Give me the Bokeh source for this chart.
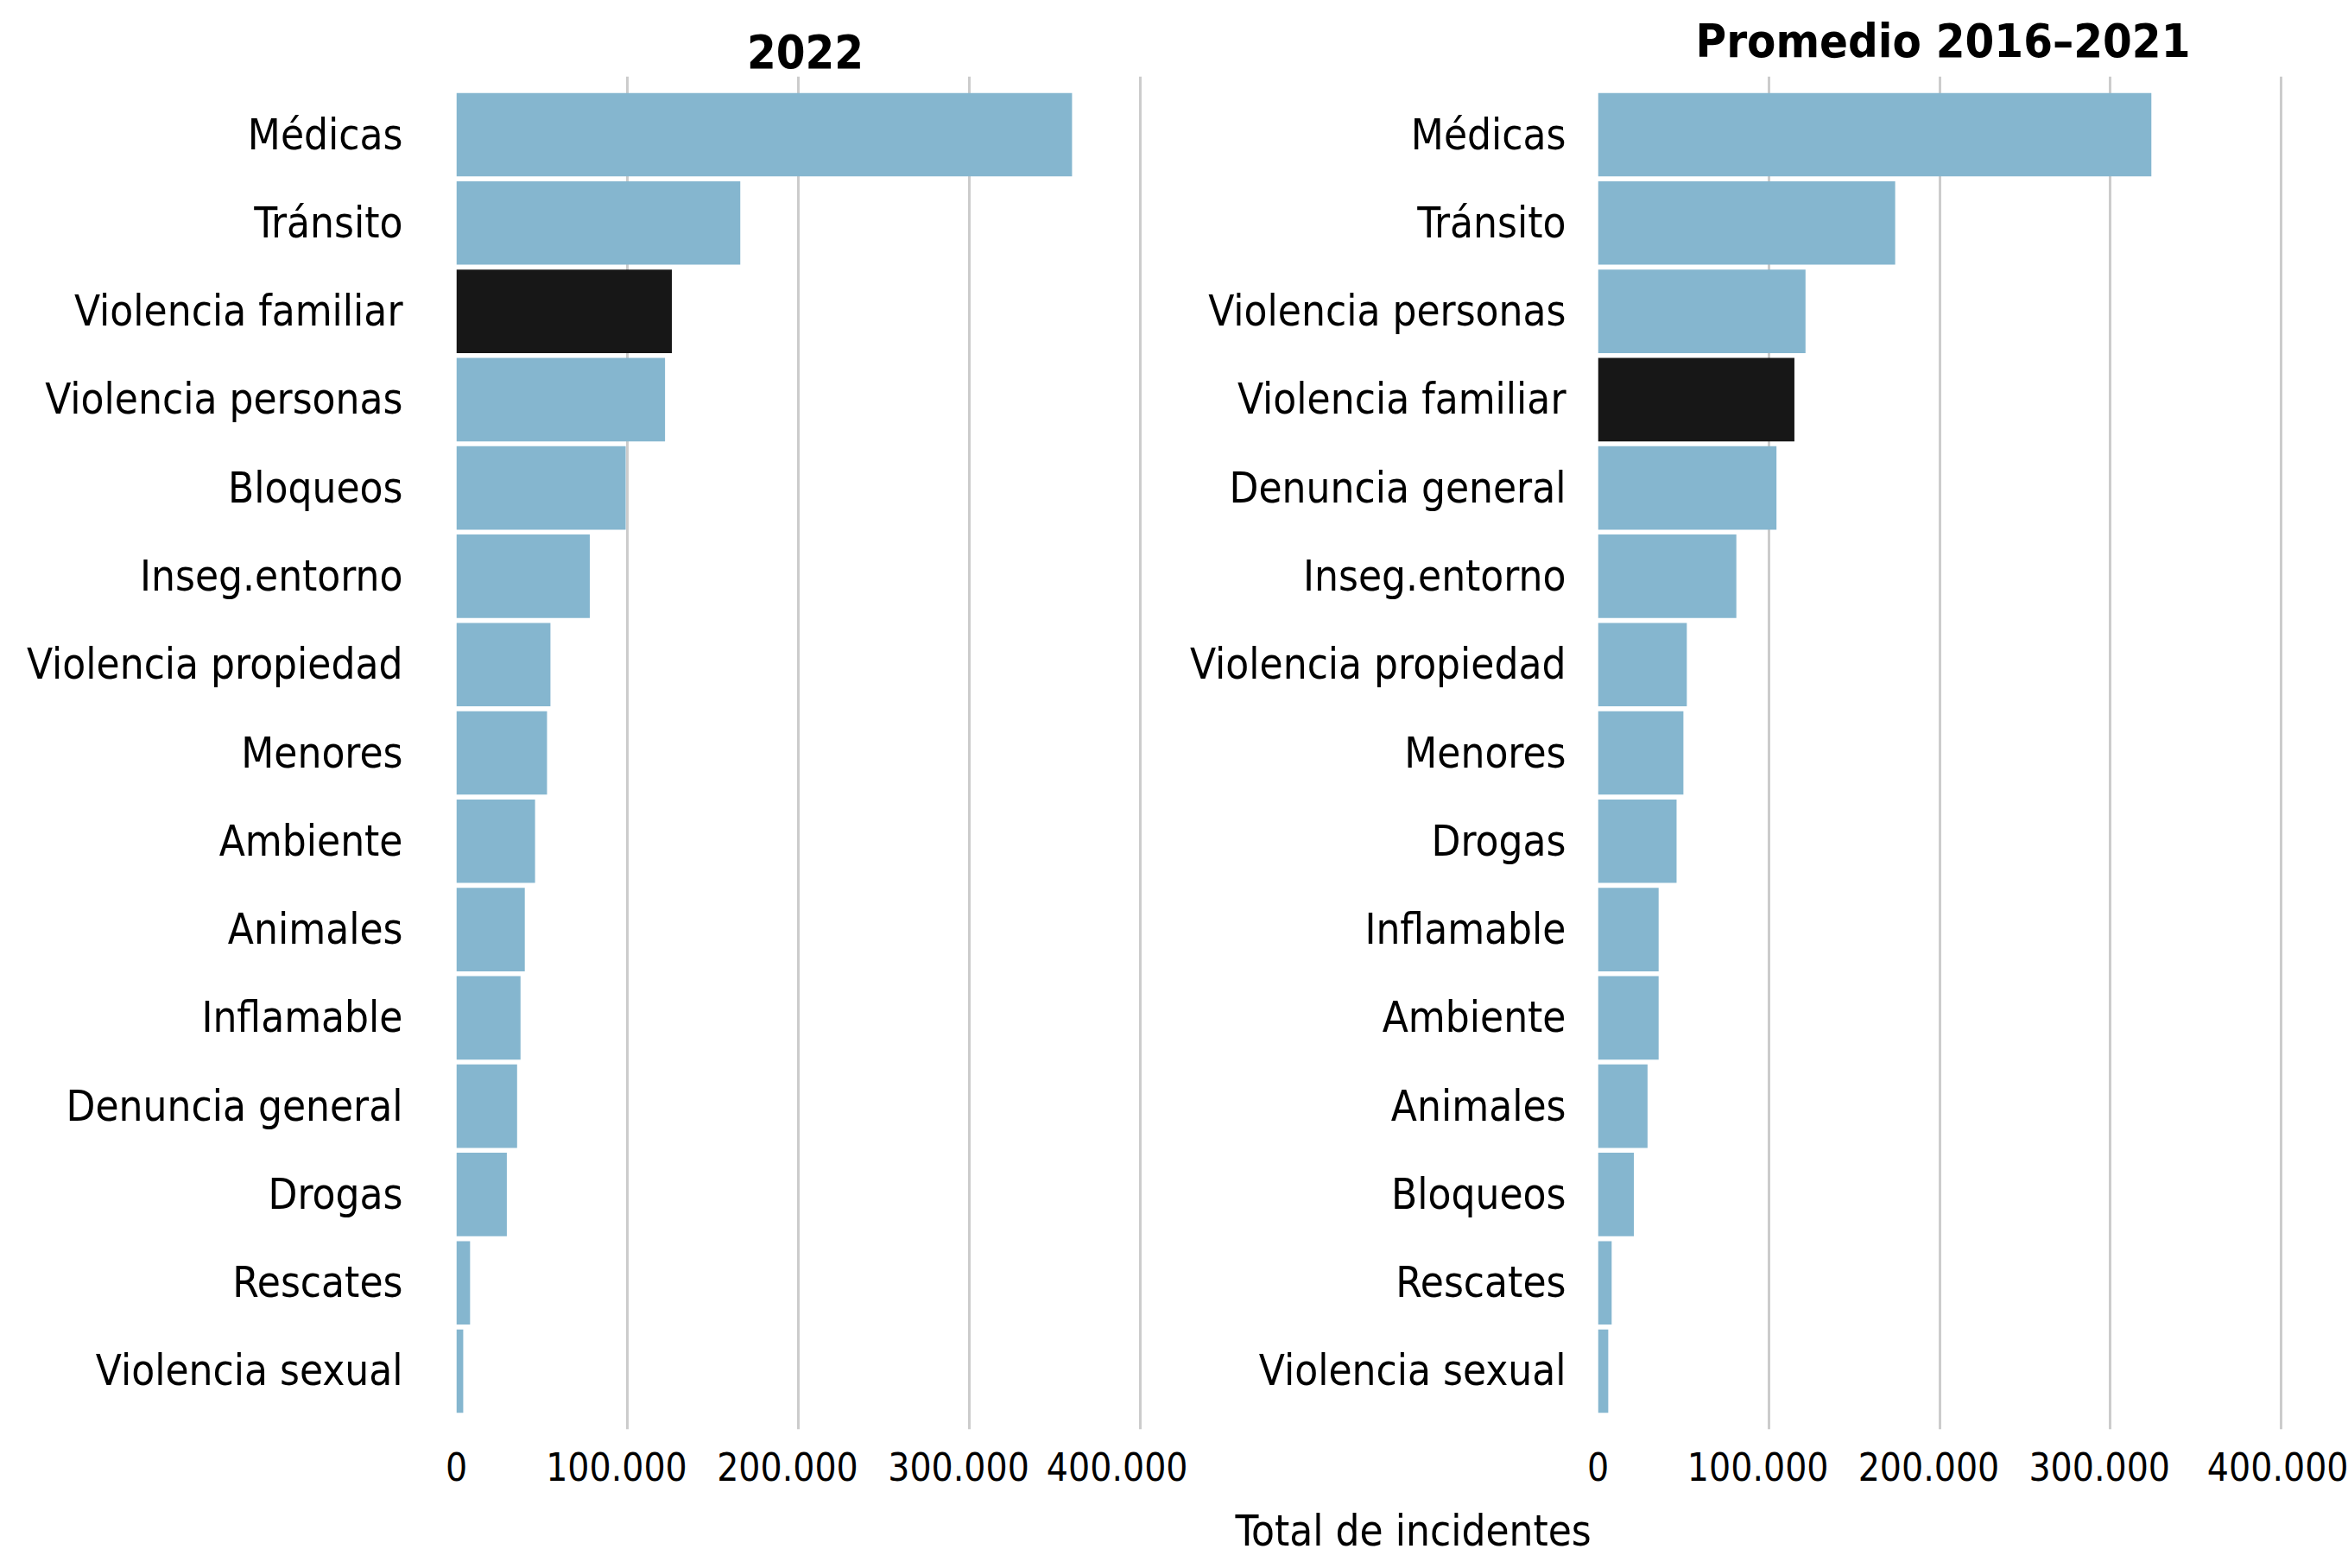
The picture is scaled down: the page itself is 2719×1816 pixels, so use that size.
from bokeh.plotting import figure
from bokeh.models import FactorRange, Range1d, FixedTicker, Title, ColumnDataSource
from bokeh.layouts import row
from bokeh.embed import file_html
from bokeh.resources import INLINE

# ---- data ----
cats_2022 = ["Médicas", "Tránsito", "Violencia familiar", "Violencia personas", "Bloqueos",
             "Inseg.entorno", "Violencia propiedad", "Menores", "Ambiente", "Animales",
             "Inflamable", "Denuncia general", "Drogas", "Rescates", "Violencia sexual"]
vals_2022 = [360000, 166000, 126000, 122000, 99000, 78000, 55000, 53000, 46000, 40000,
             37500, 35500, 29500, 8000, 4000]

cats_prom = ["Médicas", "Tránsito", "Violencia personas", "Violencia familiar", "Denuncia general",
             "Inseg.entorno", "Violencia propiedad", "Menores", "Drogas", "Inflamable",
             "Ambiente", "Animales", "Bloqueos", "Rescates", "Violencia sexual"]
vals_prom = [324000, 174000, 121500, 115000, 104500, 81000, 52000, 50000, 46000, 35500,
             35500, 29000, 21000, 8000, 6000]

highlight = "Violencia familiar"
tick_values = [0, 100000, 200000, 300000, 400000]
tick_labels = ["0", "100.000", "200.000", "300.000", "400.000"]
title_2022 = "2022"
title_prom = "Promedio 2016–2021"
x_title = "Total de incidentes"

BLUE = "#85b6cf"
BLACK = "#171717"
GRID = "#cccccc"
FONT = "'DejaVu Sans Condensed', sans-serif"
H = 1816


def label_map():
    # the reference's tick labels sit slightly left of their grid lines;
    # a trailing figure space shifts the centred text accordingly
    out = {}
    for v, l in zip(tick_values, tick_labels):
        out[v] = l + "\u2007" if 0 < v < tick_values[-1] else l
    return out


def make(cats, vals, title, width, mbl, mbr, x_end, standoff):
    colors = [BLACK if c == highlight else BLUE for c in cats]
    src = ColumnDataSource(dict(cat=cats, val=vals, color=colors))
    p = figure(width=width, height=H,
               y_range=FactorRange(factors=list(reversed(cats)), range_padding=0.16,
                                   range_padding_units="absolute"),
               x_range=Range1d(0, x_end),
               output_backend="svg", toolbar_location=None,
               min_border_left=mbl, min_border_right=mbr,
               min_border_top=88, min_border_bottom=H - 88 - 1580, title=title)
    p.hbar(y="cat", right="val", left=0, height=0.945, fill_color="color",
           line_color=None, source=src)
    p.title.align = "center"
    p.title.text_font = FONT
    p.title.text_font_size = "54px"
    p.title.text_font_style = "bold"
    p.title.text_color = "black"
    p.title.standoff = 19
    p.outline_line_color = None
    p.background_fill_color = "white"
    p.border_fill_color = "white"
    p.ygrid.grid_line_color = None
    p.xgrid.grid_line_color = GRID
    p.xgrid.grid_line_width = 3

    p.xaxis.ticker = FixedTicker(ticks=tick_values)
    p.xaxis.major_label_overrides = label_map()
    p.xaxis.axis_line_color = None
    p.xaxis.major_tick_line_color = None
    p.xaxis.minor_tick_line_color = None
    p.xaxis.major_tick_out = 0
    p.xaxis.major_tick_in = 0
    p.xaxis.major_label_standoff = 18
    p.xaxis.major_label_text_font = FONT
    p.xaxis.major_label_text_font_size = "44px"
    p.xaxis.major_label_text_color = "black"

    p.yaxis.axis_line_color = None
    p.yaxis.major_tick_line_color = None
    p.yaxis.minor_tick_line_color = None
    p.yaxis.major_tick_out = 0
    p.yaxis.major_tick_in = 0
    p.yaxis.major_label_standoff = standoff
    p.yaxis.major_label_text_font = FONT
    p.yaxis.major_label_text_font_size = "49px"
    p.yaxis.major_label_text_color = "black"
    return p


p1 = make(cats_2022, vals_2022, title_2022, 1375, 528, 39, 408000, 62)
p2 = make(cats_prom, vals_prom, title_prom, 1344, 474, 70, 404000, 37)

# axis title, placed under the space between / across both panels
xt = Title(text=x_title, align="left", offset=-420,
           text_font=FONT, text_font_size="49px", text_font_style="normal",
           text_color="black", standoff=30)
p2.add_layout(xt, "below")

layout = row(p1, p2)
open("out.html", "w").write(file_html(layout, INLINE))
